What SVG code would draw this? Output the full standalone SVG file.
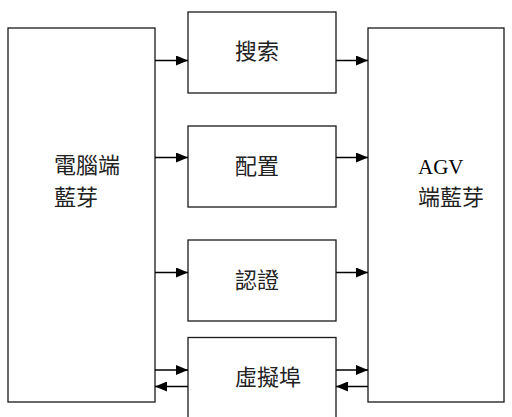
<svg xmlns="http://www.w3.org/2000/svg" width="512" height="417" viewBox="0 0 512 417">
<style>
.box{fill:#fff;stroke:#1a1a1a;stroke-width:1.3}
.cn{fill:none;stroke:#000;stroke-width:1.5}
.t{font-family:"Noto Sans CJK TC","Noto Sans CJK SC",sans-serif;font-size:22px;fill:#222}
.s{font-family:"Liberation Serif",serif;font-size:21px;fill:#000}
</style>
<defs>
<marker id="ah" markerWidth="12" markerHeight="10" refX="12" refY="5" orient="auto" markerUnits="userSpaceOnUse">
<path d="M0,0 L12,5 L0,10 Z" fill="#000"/>
</marker>
</defs>
<g id="pc">
<rect class="box" x="8" y="28" width="147" height="374"/>
<text class="t" x="54" y="173">電腦端</text>
<text class="t" x="54" y="205">藍芽</text>
</g>
<g id="agv">
<rect class="box" x="368" y="28" width="136" height="374"/>
<text class="s" x="418" y="174">AGV</text>
<text class="t" x="418" y="205">端藍芽</text>
</g>
<g id="search">
<rect class="box" x="188" y="12" width="148" height="81"/>
<text class="t" x="235" y="59">搜索</text>
</g>
<g id="config">
<rect class="box" x="188" y="126" width="148" height="81"/>
<text class="t" x="235" y="174">配置</text>
</g>
<g id="auth">
<rect class="box" x="188" y="240" width="148" height="81"/>
<text class="t" x="235" y="288">認證</text>
</g>
<g id="vport">
<rect class="box" x="188" y="337.5" width="148" height="82"/>
<text class="t" x="235" y="385">虛擬埠</text>
</g>
<g id="connectors">
<line class="cn" x1="155" y1="60.5" x2="188" y2="60.5" marker-end="url(#ah)"/>
<line class="cn" x1="336" y1="60.5" x2="368" y2="60.5" marker-end="url(#ah)"/>
<line class="cn" x1="155" y1="157.5" x2="188" y2="157.5" marker-end="url(#ah)"/>
<line class="cn" x1="336" y1="157.5" x2="368" y2="157.5" marker-end="url(#ah)"/>
<line class="cn" x1="155" y1="272.5" x2="188" y2="272.5" marker-end="url(#ah)"/>
<line class="cn" x1="336" y1="272.5" x2="368" y2="272.5" marker-end="url(#ah)"/>
<line class="cn" x1="155" y1="370" x2="188" y2="370" marker-end="url(#ah)"/>
<line class="cn" x1="336" y1="370" x2="368" y2="370" marker-end="url(#ah)"/>
<line class="cn" x1="188" y1="386.5" x2="155" y2="386.5" marker-end="url(#ah)"/>
<line class="cn" x1="368" y1="386.5" x2="336" y2="386.5" marker-end="url(#ah)"/>
</g>
</svg>
